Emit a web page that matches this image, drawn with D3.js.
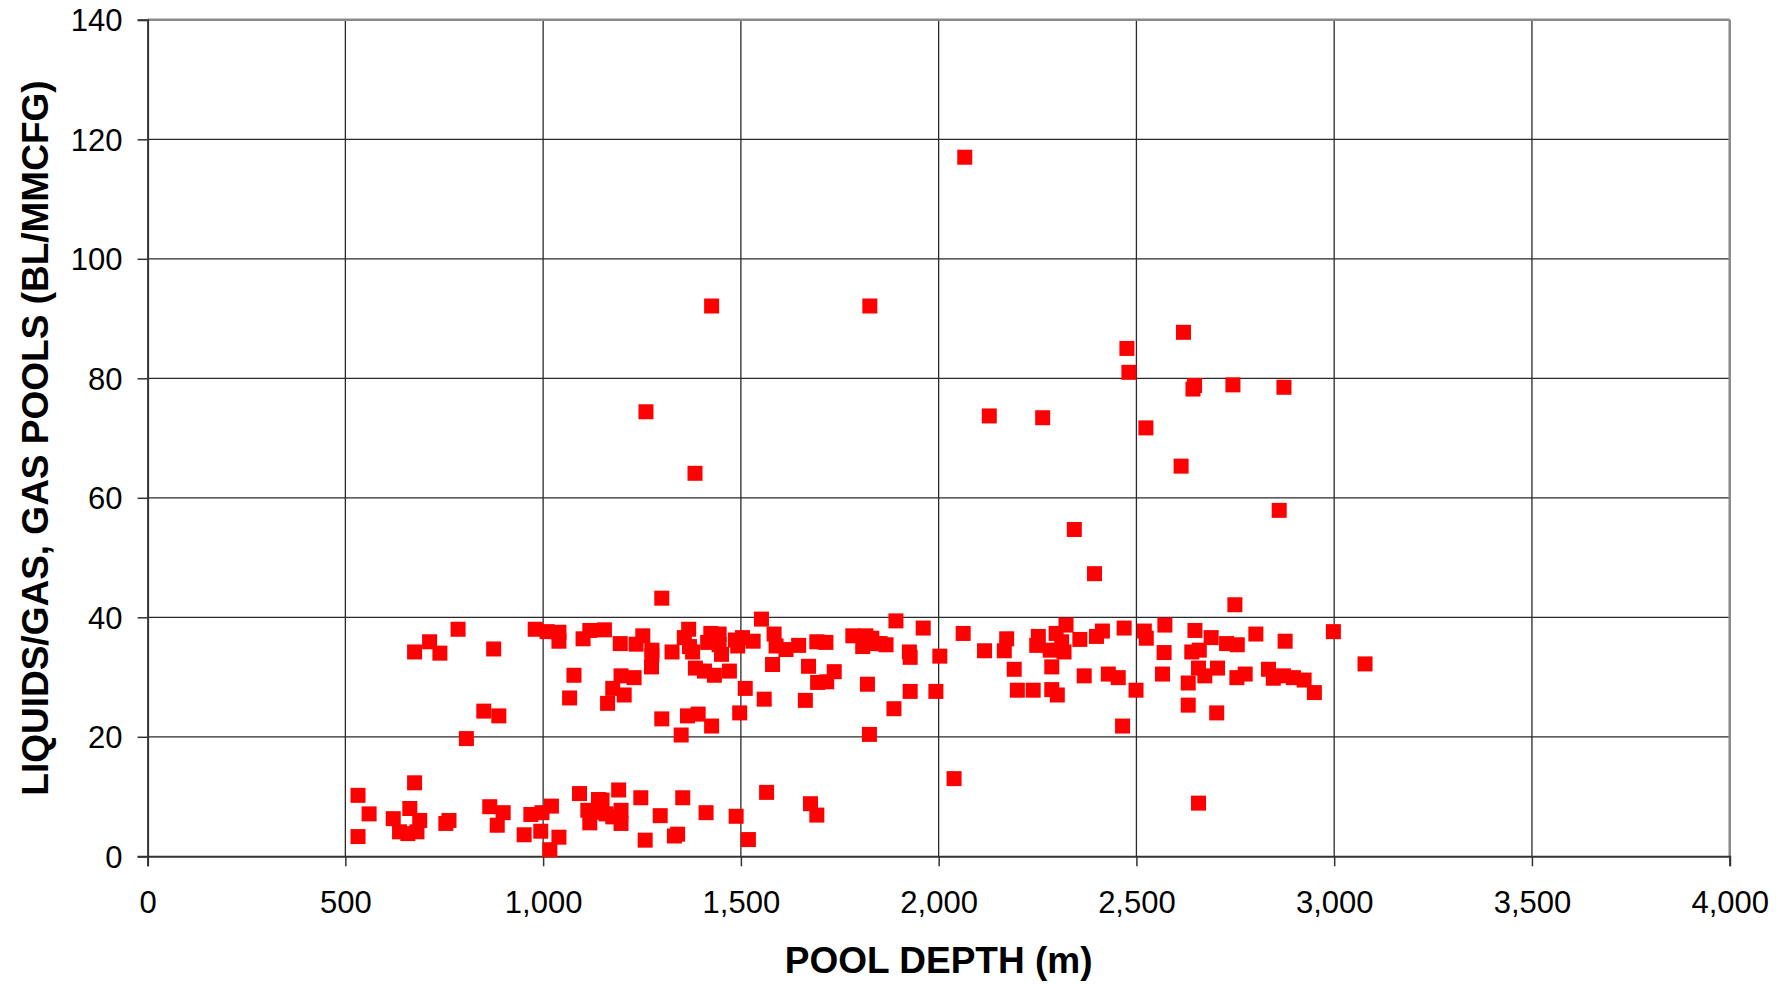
<!DOCTYPE html>
<html>
<head>
<meta charset="utf-8">
<script src="https://cdn.jsdelivr.net/npm/d3@7"></script>
<style>
  html, body { margin: 0; padding: 0; background: #fff; }
  svg { display: block; }
</style>
</head>
<body>
<svg id="chart" width="1791" height="984"></svg>
<script>
// ---- DATA (pool depth m, liquids/gas BL/MMCFG) ----
const xTicks = [0, 500, 1000, 1500, 2000, 2500, 3000, 3500, 4000];
const yTicks = [0, 20, 40, 60, 80, 100, 120, 140];
const xTitle = "POOL DEPTH (m)";
const yTitle = "LIQUIDS/GAS, GAS POOLS (BL/MMCFG)";

const outlierPools = [
  [2066,117.0],[1426,92.1],[1826,92.1],[2619,87.7],[2476,85.0],[2481,81.0],[2647,78.8],[2643,78.2],
  [2744,78.9],[2873,78.5],[1260,74.4],[2128,73.7],[2263,73.4],[2524,71.7],[1384,64.1],[2613,65.3],
  [2861,57.9],[2343,54.7],[2394,47.3],[2749,42.1],[1300,43.2],[2039,13.0],[2657,8.9]
];

const shallowBand = [
  [785,38.0],[713,35.9],[675,34.2],[739,34.0],[875,34.7],[980,38.0],[1010,37.6],[1040,37.5],
  [1040,36.0],[1101,36.4],[1118,37.8],[1078,30.3],[1067,26.5],[850,24.3],[888,23.5],[806,19.7]
];

const shallowLow = [
  [675,12.3],[532,10.2],[560,7.1],[532,3.3],[621,6.3],[663,8.0],[688,6.0],[637,4.1],[658,3.8],
  [681,4.1],[754,5.5],[762,6.0],[865,8.3],[899,7.3],[884,5.2],[952,3.6],[969,7.0],[997,7.3],
  [1021,8.4],[994,4.2],[1040,3.2],[1017,1.1],[1092,10.5],[1113,7.7],[1118,5.6],[1140,9.5],[1145,7.4]
];

const midBand = [
  [1155,37.9],[1195,35.6],[1252,36.9],[1235,35.5],[1275,34.5],[1275,33.7],[1326,34.2],[1274,31.7],
  [1368,38.0],[1357,36.6],[1370,35.1],[1378,34.2],[1424,37.3],[1445,37.2],[1416,35.8],[1445,35.4],
  [1451,33.8],[1486,36.2],[1504,36.6],[1531,36.0],[1492,35.2],[1385,31.5],[1408,31.0],[1433,30.3],
  [1471,31.0],[1197,30.2],[1230,29.9],[1176,28.1],[1205,27.0],[1163,25.6],[1511,28.1],[1552,39.7],
  [1584,37.2],[1589,35.2],[1614,34.6],[1646,35.3],[1580,32.1],[1692,35.9],[1715,35.8],[1671,31.8],
  [1736,30.9],[1694,29.1],[1717,29.2],[1783,36.9],[1816,36.9],[1808,35.1],[1842,35.6],[1820,28.8],
  [1559,26.3],[1663,26.1],[1300,23.0],[1365,23.5],[1392,23.8],[1426,21.8],[1349,20.3],[1497,24.0],
  [1825,20.4]
];

const midLow = [
  [1149,9.4],[1191,11.1],[1159,7.1],[1197,7.7],[1197,5.5],[1176,6.6],[1247,9.8],[1296,6.8],
  [1353,9.8],[1258,2.7],[1332,3.4],[1340,3.7],[1412,7.3],[1488,6.7],[1519,2.8],[1565,10.7],
  [1676,8.8],[1692,6.9]
];

const deepBand = [
  [1892,39.4],[1961,38.2],[1831,36.5],[1852,35.6],[1867,35.4],[1926,34.2],[1928,33.3],[2003,33.5],
  [2062,37.3],[2116,34.4],[2172,36.4],[2166,34.4],[2191,31.3],[2252,36.8],[2248,35.3],[2282,34.5],
  [2297,37.3],[2322,38.7],[2311,35.9],[2317,34.2],[2286,31.7],[2357,36.3],[2399,36.8],[2414,37.7],
  [2469,38.2],[2368,30.2],[2429,30.5],[2454,29.9],[2499,27.8],[1928,27.6],[1993,27.6],[2199,27.8],
  [2239,27.8],[2286,27.9],[2300,27.0],[1887,24.7],[2465,21.8]
];

const deepestBand = [
  [2520,37.7],[2525,36.5],[2572,38.7],[2570,34.1],[2566,30.5],[2648,37.8],[2689,36.6],[2728,35.6],
  [2755,35.4],[2802,37.2],[2876,36.0],[2998,37.6],[3078,32.2],[2640,34.2],[2659,34.5],[2657,31.5],
  [2673,30.2],[2705,31.5],[2631,29.0],[2754,29.9],[2775,30.5],[2834,31.3],[2846,29.8],[2872,30.2],
  [2897,29.9],[2924,29.5],[2950,27.4],[2631,25.3],[2703,24.0]
];

const allPoints = [].concat(shallowLow, shallowBand, midLow, midBand, deepBand, deepestBand, outlierPools);

// ---- LAYOUT ----
const W = 1791, H = 984;
const m = { left: 147.6, right: W - 1729.7, top: 19.8, bottom: H - 856.3 };
const pw = W - m.left - m.right, ph = H - m.top - m.bottom;

const svg = d3.select("#chart");
const g = svg.append("g").attr("transform", `translate(${m.left},${m.top})`);

const x = d3.scaleLinear().domain([0, 4000]).range([0, pw]);
const y = d3.scaleLinear().domain([0, 140]).range([ph, 0]);

const font = "'Liberation Sans', Arial, Helvetica, sans-serif";

// gridlines
g.append("g").selectAll("line").data(xTicks.slice(1, -1)).join("line")
  .attr("x1", d => x(d)).attr("x2", d => x(d)).attr("y1", 0).attr("y2", ph)
  .attr("stroke", "#2a2a2a").attr("stroke-width", 1.3);
g.append("g").selectAll("line").data(yTicks.slice(1, -1)).join("line")
  .attr("y1", d => y(d)).attr("y2", d => y(d)).attr("x1", 0).attr("x2", pw)
  .attr("stroke", "#2a2a2a").attr("stroke-width", 1.3);

// frame top/right
g.append("line").attr("x1", 0).attr("x2", pw).attr("y1", 0).attr("y2", 0)
  .attr("stroke", "#8a8a8a").attr("stroke-width", 2.5);
g.append("line").attr("x1", pw).attr("x2", pw).attr("y1", 0).attr("y2", ph)
  .attr("stroke", "#8a8a8a").attr("stroke-width", 2.5);

// axes
const fmt = d3.format(",");
const xAxis = g.append("g").attr("transform", `translate(0,${ph})`)
  .call(d3.axisBottom(x).tickValues(xTicks).tickFormat(fmt).tickSize(10).tickPadding(25));
const yAxis = g.append("g")
  .call(d3.axisLeft(y).tickValues(yTicks).tickSize(10).tickPadding(15));

[xAxis, yAxis].forEach(a => {
  a.select(".domain").attr("stroke", "#333").attr("stroke-width", 2);
  a.selectAll(".tick line").attr("stroke", "#333").attr("stroke-width", 1.5);
  a.selectAll(".tick text").attr("font-family", font).attr("font-size", 31).attr("fill", "#000");
});
yAxis.selectAll(".tick text").attr("dy", "0.36em");

// points
const ms = 15;
g.append("g").selectAll("rect").data(allPoints).join("rect")
  .attr("x", d => x(d[0]) - ms / 2).attr("y", d => y(d[1]) - ms / 2)
  .attr("width", ms).attr("height", ms)
  .attr("fill", "#ff0000");

// titles
svg.append("text")
  .attr("x", m.left + pw / 2).attr("y", 973)
  .attr("text-anchor", "middle")
  .attr("font-family", font).attr("font-weight", "bold").attr("font-size", 37)
  .text(xTitle);

svg.append("text")
  .attr("transform", `translate(48,${m.top + ph / 2}) rotate(-90)`)
  .attr("text-anchor", "middle")
  .attr("font-family", font).attr("font-weight", "bold").attr("font-size", 37)
  .text(yTitle);
</script>
</body>
</html>
